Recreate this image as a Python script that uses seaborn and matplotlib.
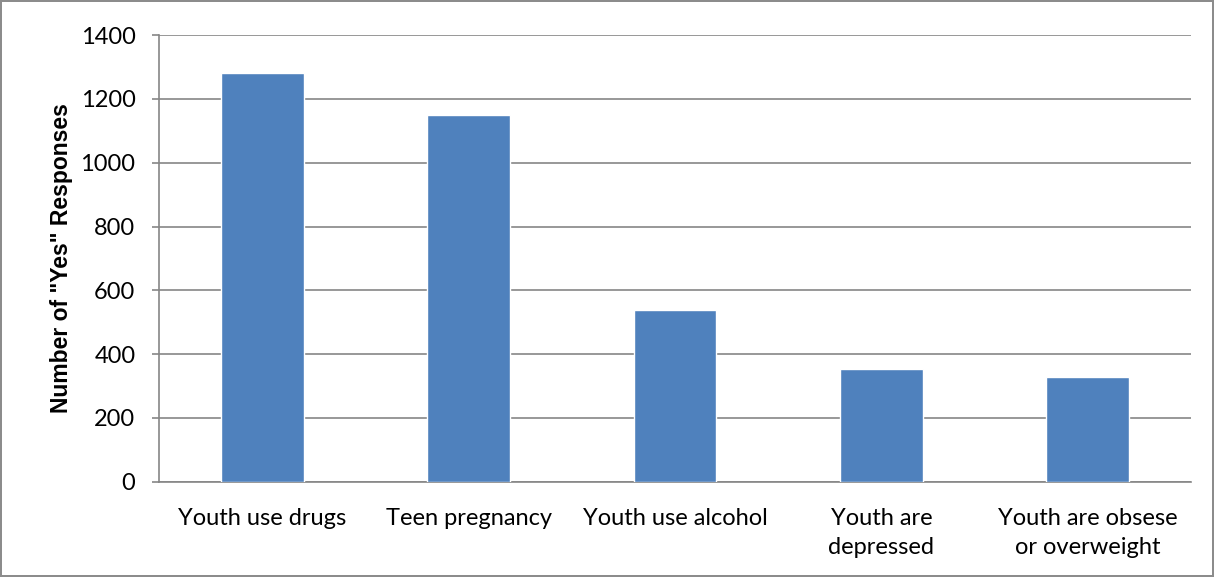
import seaborn as sns
import matplotlib.pyplot as plt
import pandas as pd

# data
categories = ["Youth use drugs", "Teen pregnancy", "Youth use alcohol",
              "Youth are\ndepressed", "Youth are obsese\nor overweight"]
responses = [1280, 1150, 540, 353, 329]
y_ticks = [0, 200, 400, 600, 800, 1000, 1200, 1400]

df = pd.DataFrame({"issue": categories, "count": responses})

sns.set_style("white")
plt.rcParams['font.family'] = ['Lato', 'DejaVu Sans']
plt.rcParams['text.color'] = 'black'
plt.rcParams['xtick.labelcolor'] = 'black'
plt.rcParams['ytick.labelcolor'] = 'black'
plt.rcParams['axes.labelcolor'] = 'black'

grey = "#868686"
fig = plt.figure(figsize=(12.14, 5.77), dpi=100)
ax = fig.add_axes([0.131, 0.165, 0.85, 0.774])

sns.barplot(data=df, x="issue", y="count", color="#4F81BD", saturation=1,
            width=0.4, ax=ax, zorder=3)

ax.set_ylim(0, 1400)
ax.set_xlim(-0.5, len(categories) - 0.5)
ax.set_yticks(y_ticks)
ax.set_yticklabels([str(t) for t in y_ticks], fontsize=17)
ax.yaxis.grid(True, color=grey, linewidth=1.2, zorder=0)
ax.set_axisbelow(True)

ax.set_xticks(range(len(categories)))
ax.set_xticklabels(categories, fontsize=17, linespacing=1.45)
ax.set_xticks([i - 0.5 for i in range(len(categories) + 1)], minor=True)
ax.tick_params(axis="x", which="major", length=0, pad=19)
ax.tick_params(axis="x", which="minor", length=6, width=1.2, color=grey, direction="out")
ax.tick_params(axis="y", length=5, width=1.2, color=grey, direction="out", left=True, pad=12)

for side in ["top", "right"]:
    ax.spines[side].set_visible(False)
for side in ["left", "bottom"]:
    ax.spines[side].set_color(grey)
    ax.spines[side].set_linewidth(1.2)

ax.set_xlabel("")
ax.set_ylabel('Number of "Yes" Responses', fontsize=16.5, fontweight="bold",
              family=['Liberation Sans', 'DejaVu Sans'], labelpad=5)

fig.patch.set_linewidth(1.5)
fig.savefig("out.png", dpi=100, edgecolor="#8c8c8c", facecolor="white")
